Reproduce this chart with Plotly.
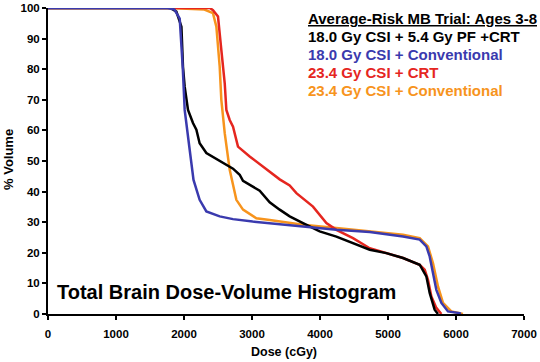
import plotly.graph_objects as go

# ---- data (dose in cGy, volume in %) ----
names = [
    "18.0 Gy CSI + 5.4 Gy PF +CRT",
    "18.0 Gy CSI + Conventional",
    "23.4 Gy CSI + CRT",
    "23.4 Gy CSI + Conventional",
]
colors = ["#000000", "#3a3aae", "#e5261f", "#f7941d"]

black_dose = [0, 1800, 1888, 1962, 1985, 2010, 2059, 2132, 2182, 2230, 2329, 2450, 2574, 2721, 2819, 2868, 3113,
              3260, 3407, 3554, 3750, 3995, 4241, 4485, 4731, 4976, 5221, 5466, 5564, 5613, 5686, 5735]
black_vol = [100, 100, 98.8, 93.9, 80.8, 74.3, 66.7, 62.4, 60.2, 55.8, 52.6, 51.0, 49.3, 47.5, 45.5, 43.5, 40.3,
             36.5, 34.1, 31.9, 29.7, 27.0, 25.3, 23.2, 21.0, 19.9, 18.3, 16.1, 12.3, 6.9, 1.4, 0]

blue_dose = [0, 1760, 1860, 1937, 1981, 2010, 2084, 2140, 2230, 2329, 2525, 2720, 3010, 3260, 3894, 4241, 4731,
             5221, 5466, 5564, 5613, 5662, 5711, 5785, 5882, 6054, 6070]
blue_vol = [100, 100, 99.5, 96.5, 80.8, 66.7, 53.6, 43.8, 37.3, 33.5, 31.9, 31.0, 30.2, 29.7, 28.2, 27.5, 26.8,
            25.3, 24.3, 22.1, 18.8, 13.4, 7.9, 3.6, 0.85, 0.3, 0]

red_dose = [0, 2380, 2426, 2500, 2549, 2599, 2623, 2672, 2721, 2794, 2966, 3260, 3407, 3554, 3653, 3897, 4094,
            4241, 4485, 4731, 4976, 5221, 5466, 5540, 5588, 5638, 5711, 5785]
red_vol = [100, 100, 99.3, 97.2, 86.3, 75.4, 66.7, 63.4, 61.2, 54.7, 51.5, 46.5, 44.0, 42.0, 39.5, 35.1, 29.7,
           27.5, 24.8, 21.5, 19.9, 18.3, 16.1, 14.5, 11.2, 5.7, 2.0, 0]

orange_dose = [0, 1780, 2300, 2426, 2476, 2525, 2549, 2599, 2672, 2770, 2868, 3064, 3260, 3750, 4241, 4731,
               5221, 5466, 5588, 5662, 5735, 5809, 5931, 6103]
orange_vol = [100, 100, 99.5, 98.3, 93.9, 80.8, 70.0, 59.1, 47.1, 37.3, 34.1, 31.3, 30.7, 29.2, 28.1, 27.0,
              25.9, 24.8, 22.1, 16.6, 9.0, 3.6, 0.85, 0]

series_x = [black_dose, blue_dose, red_dose, orange_dose]
series_y = [black_vol, blue_vol, red_vol, orange_vol]

x_ticks = [0, 1000, 2000, 3000, 4000, 5000, 6000, 7000]
y_ticks = [0, 10, 20, 30, 40, 50, 60, 70, 80, 90, 100]

legend_title = "Average-Risk MB Trial: Ages 3-8"
chart_title = "Total Brain Dose-Volume Histogram"
x_title = "Dose (cGy)"
y_title = "% Volume"

FONT = "Liberation Sans, Arial, sans-serif"

fig = go.Figure()
order = [3, 2, 0, 1]
for i in order:
    fig.add_trace(go.Scatter(x=series_x[i], y=series_y[i], mode="lines", name=names[i],
                             line=dict(color=colors[i], width=2.5), showlegend=False, hoverinfo="skip"))

W, H = 540, 362
ml, mr, mt, mb = 48, 16, 8, 48


def px_to_paper(px, py):
    return (px - ml) / (W - ml - mr), 1 - (py - mt) / (H - mt - mb)


annotations = []
hx, hy = px_to_paper(306, 19)
annotations.append(dict(x=hx, y=hy, xref="paper", yref="paper", xanchor="left", yanchor="middle",
                        text="<b><u>" + legend_title + "</u></b>", showarrow=False,
                        font=dict(family=FONT, size=15, color="#000000")))
for k, (nm, col) in enumerate(zip(names, colors)):
    lx, ly = px_to_paper(306, 36.5 + k * 18)
    annotations.append(dict(x=lx, y=ly, xref="paper", yref="paper", xanchor="left", yanchor="middle",
                            text="<b>" + nm + "</b>", showarrow=False,
                            font=dict(family=FONT, size=15, color=col)))
tx, ty = px_to_paper(55, 292)
annotations.append(dict(x=tx, y=ty, xref="paper", yref="paper", xanchor="left", yanchor="middle",
                        text="<b>" + chart_title + "</b>", showarrow=False,
                        font=dict(family=FONT, size=20, color="#000000")))
xtx, xty = px_to_paper(284, 352)
annotations.append(dict(x=xtx, y=xty, xref="paper", yref="paper", xanchor="center", yanchor="middle",
                        text="<b>" + x_title + "</b>", showarrow=False,
                        font=dict(family=FONT, size=12.5, color="#000000")))
ytx, yty = px_to_paper(8, 160)
annotations.append(dict(x=ytx, y=yty, xref="paper", yref="paper", xanchor="center", yanchor="middle",
                        text="<b>" + y_title + "</b>", showarrow=False, textangle=-90,
                        font=dict(family=FONT, size=13, color="#000000")))

fig.update_layout(
    width=W, height=H,
    margin=dict(l=ml, r=mr, t=mt, b=mb, autoexpand=False),
    paper_bgcolor="white", plot_bgcolor="white",
    font=dict(family=FONT, color="#000000"),
    annotations=annotations,
)
fig.update_xaxes(range=[0, 7000], tickvals=x_ticks, ticktext=["<b>%d</b>" % v for v in x_ticks],
                 showgrid=False, zeroline=False, showline=True, linecolor="black", linewidth=2,
                 ticks="outside", ticklen=4, tickwidth=2, tickcolor="black", ticklabelstandoff=4,
                 tickfont=dict(size=11.5, family=FONT), automargin=False)
fig.update_yaxes(range=[0, 100], tickvals=y_ticks, ticktext=["<b>%d</b>" % v for v in y_ticks],
                 showgrid=False, zeroline=False, showline=True, linecolor="black", linewidth=2,
                 ticks="outside", ticklen=4, tickwidth=2, tickcolor="black",
                 tickfont=dict(size=11.5, family=FONT), automargin=False)

fig.write_html("out.html", config={"displayModeBar": False},
               post_script="document.body.style.margin='0';document.body.style.padding='0';")
